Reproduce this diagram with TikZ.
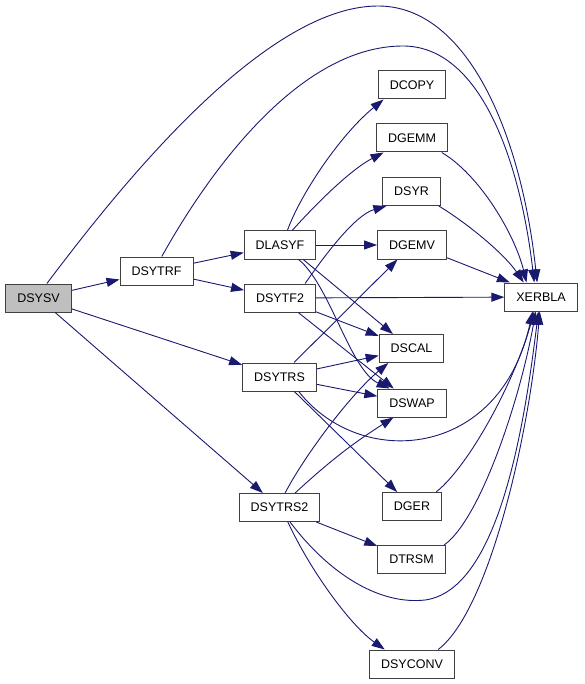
\documentclass[tikz,border=0pt]{standalone}
\usepackage{fontspec}
\setmainfont{Liberation Sans}
\usetikzlibrary{arrows.meta}
\definecolor{callblue}{RGB}{25,25,112}
\definecolor{boxgray}{RGB}{191,191,191}

\begin{document}
\begin{tikzpicture}[
	x=1pt, y=-1pt,
	box/.style={rectangle, draw=black!75, line width=1pt, fill=white, minimum height=28pt, inner xsep=11.5pt, font=\fontsize{12.5}{15}\selectfont},
	cbox/.style={box, fill=boxgray},
	call/.style={draw=callblue, line width=0.9pt, -{Triangle[length=13pt,width=9pt]}, callblue}
	]
	\useasboundingbox (0,0) rectangle (584,684);

	% callers
	\node[cbox] (dsysv) at (38.5,298) {DSYSV};
	\node[box] (dsytrf) at (156.5,271) {DSYTRF};
	\node[box] (dlasyf) at (280,245) {DLASYF};
	\node[box] (dsytf2) at (280,298) {DSYTF2};
	\node[box] (dsytrs) at (279.5,377) {DSYTRS};
	\node[box] (dsytrs2) at (279.5,507.5) {DSYTRS2};

	% blas and helpers
	\node[box] (dcopy) at (412,85) {DCOPY};
	\node[box] (dgemm) at (412,138) {DGEMM};
	\node[box] (dsyr) at (411.5,191.5) {DSYR};
	\node[box] (dgemv) at (412,245) {DGEMV};
	\node[box] (dscal) at (411.5,348.5) {DSCAL};
	\node[box] (dswap) at (412,403) {DSWAP};
	\node[box] (dger) at (412,506.5) {DGER};
	\node[box] (dtrsm) at (411.5,559.5) {DTRSM};
	\node[box] (dsyconv) at (412,664) {DSYCONV};
	\node[box] (xerbla) at (541,297) {XERBLA};

	% DSYSV
	\draw[call] (dsysv.60) .. controls (110,200) and (260,6) .. (378,6) .. controls (470,6) and (522,140) .. (xerbla.105);
	\draw[call] (dsysv) -- (dsytrf);
	\draw[call] (dsysv) -- (dsytrs);
	\draw[call] (dsysv) -- (dsytrs2);

	% DSYTRF
	\draw[call] (dsytrf.70) .. controls (210,170) and (300,46) .. (403,46) .. controls (480,46) and (520,160) .. (xerbla.115);
	\draw[call] (dsytrf) -- (dlasyf);
	\draw[call] (dsytrf) -- (dsytf2);

	% DLASYF
	\draw[call] (dlasyf.63) .. controls (300,195) and (340,135) .. (dcopy.207);
	\draw[call] (dlasyf.50) .. controls (315,205) and (350,170) .. (dgemm.207);
	\draw[call] (dlasyf) -- (dgemv);
	\draw[call] (dlasyf.-32) -- (dscal.142);
	\draw[call] (dlasyf.-38) .. controls (330,285) and (350,370) .. (dswap.147);

	% DSYTF2
	\draw[call] (dsytf2.30) .. controls (325,255) and (355,215) .. (dsyr.210);
	\draw[call] (dsytf2) -- (xerbla);
	\draw[call] (dsytf2) -- (dscal);
	\draw[call] (dsytf2) -- (dswap);

	% DSYTRS
	\draw[call] (dsytrs) -- (dgemv);
	\draw[call] (dsytrs) -- (dscal);
	\draw[call] (dsytrs) -- (dswap);
	\draw[call] (dsytrs) -- (dger);
	\draw[call] (dsytrs.-37) .. controls (360,470) and (500,460) .. (xerbla.-120);

	% DSYTRS2
	\draw[call] (dsytrs2.69) .. controls (305,455) and (350,395) .. (dscal.212);
	\draw[call] (dsytrs2.43) to[bend left=5] (dswap.218);
	\draw[call] (dsytrs2) -- (dtrsm);
	\draw[call] (dsytrs2.-54) .. controls (330,575) and (380,605) .. (425,600) .. controls (500,590) and (525,420) .. (xerbla.-100);
	\draw[call] (dsytrs2.-60) .. controls (310,570) and (350,625) .. (dsyconv.152);

	% into XERBLA
	\draw[call] (dgemm.-26) .. controls (480,175) and (515,235) .. (xerbla.135);
	\draw[call] (dsyr.-28) .. controls (470,225) and (505,255) .. (xerbla.140);
	\draw[call] (dgemv.-20) -- (xerbla.155);
	\draw[call] (dger.31) .. controls (470,465) and (515,380) .. (xerbla.-115);
	\draw[call] (dtrsm.24) .. controls (480,520) and (520,400) .. (xerbla.-110);
	\draw[call] (dsyconv.29) .. controls (490,610) and (530,430) .. (xerbla.-95);
\end{tikzpicture}
\end{document}
